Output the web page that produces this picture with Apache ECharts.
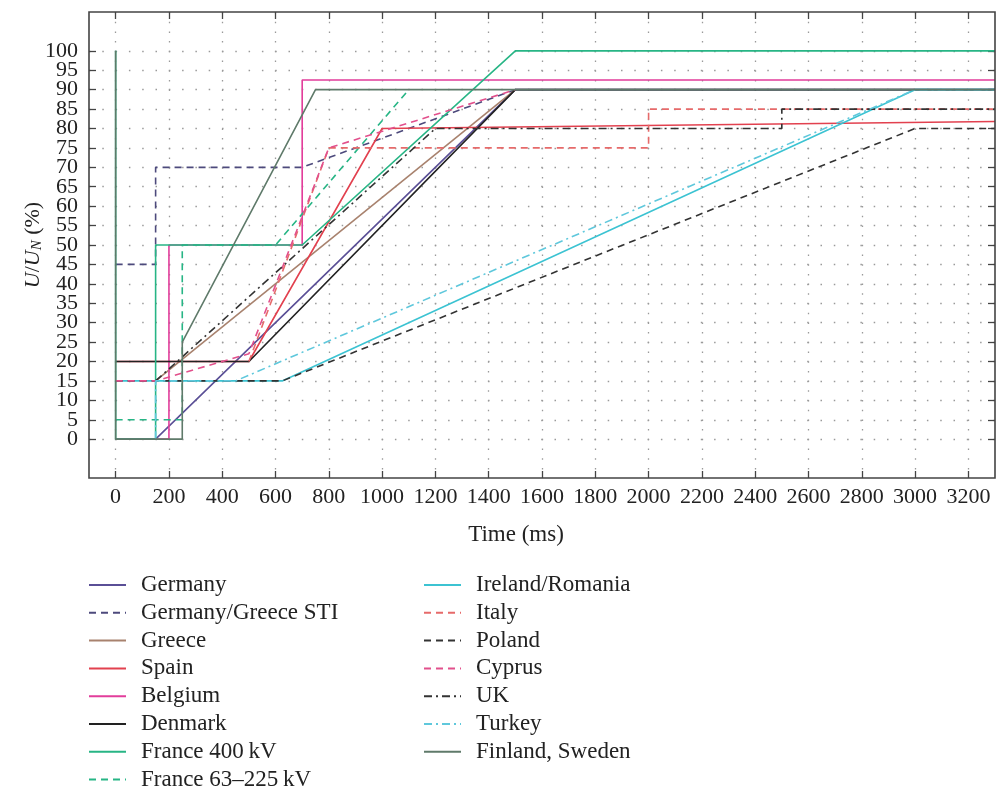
<!DOCTYPE html>
<html>
<head>
<meta charset="utf-8">
<script src="https://cdn.jsdelivr.net/npm/echarts@6/dist/echarts.min.js"></script>
<style>
html,body{margin:0;padding:0;background:#fff;}
#chart{width:997px;height:797px;}
</style>
</head>
<body>
<div id="chart"></div>
<script>
// ---- data (time in ms, voltage in % of U_N) ----
const xTicks = [0,200,400,600,800,1000,1200,1400,1600,1800,2000,2200,2400,2600,2800,3000,3200];
const yTicksEven = [0,10,20,30,40,50,60,70,80,90,100];
const yTicksOdd  = [5,15,25,35,45,55,65,75,85,95];

const germany        = [[0,0],[150,0],[1500,90],[3300,90]];
const germanyGreeceSTI = [[0,45],[150,45],[150,70],[700,70],[1500,90]];
const greece         = [[150,15],[1500,90]];
const spain          = [[0,20],[500,20],[1000,80],[3300,81.8]];
const belgium        = [[0,0],[200,0],[200,50],[700,50],[700,92.5],[3300,92.5]];
const denmark        = [[0,20],[500,20],[1500,90],[3300,90]];
const france400      = [[0,100],[0,0],[150,0],[150,50],[700,50],[1500,100],[3300,100]];
const france63       = [[0,5],[250,5],[250,50],[600,50],[1100,90]];
const irelandRomania = [[0,15],[625,15],[3000,90],[3300,90]];
const italy          = [[500,20],[800,75],[2000,75],[2000,85],[3300,85]];
const poland         = [[0,15],[625,15],[3000,80],[3300,80]];
const cyprus         = [[0,15],[150,15],[500,22],[800,75],[1500,90]];
const uk             = [[150,15],[1200,80],[2500,80],[2500,85],[3300,85]];
const turkey         = [[150,0],[150,15],[450,15],[3000,90],[3300,90]];
const finlandSweden  = [[0,100],[0,0],[250,0],[250,25],[750,90],[3300,90]];

const seriesDefs = [
  ['Germany', germany, '#5a4f96', 'solid'],
  ['Germany/Greece STI', germanyGreeceSTI, '#4d4a7c', 'dashed'],
  ['Greece', greece, '#a8826e', 'solid'],
  ['Spain', spain, '#e2414f', 'solid'],
  ['Belgium', belgium, '#e23d9b', 'solid'],
  ['Denmark', denmark, '#222222', 'solid'],
  ['France 400\u2009kV', france400, '#27b585', 'solid'],
  ['France 63\u2013225\u2009kV', france63, '#27b585', 'dashed'],
  ['Ireland/Romania', irelandRomania, '#3cc3d2', 'solid'],
  ['Italy', italy, '#e66a6a', 'dashed'],
  ['Poland', poland, '#333333', 'dashed'],
  ['Cyprus', cyprus, '#e2508c', 'dashed'],
  ['UK', uk, '#333333', 'dashdot'],
  ['Turkey', turkey, '#5fc8dc', 'dashdot'],
  ['Finland, Sweden', finlandSweden, '#5f7a6a', 'solid']
];

function lineType(t){
  if (t === 'dashed') return [7,5];
  if (t === 'dashdot') return [8,4,2,4];
  return 'solid';
}

const series = seriesDefs.map(d => ({
  name: d[0], type: 'line', data: d[1], xAxisIndex: 0, yAxisIndex: 0,
  showSymbol: false, symbol: 'none', animation: false, silent: true,
  lineStyle: { color: d[2], width: 1.6, type: lineType(d[3]) },
  itemStyle: { color: d[2] }
}));

// legend in two columns
const col1 = seriesDefs.slice(0,8).map(d => d[0]);
const col2 = seriesDefs.slice(8).map(d => d[0]);

const FONT = 'Liberation Serif';
const chart = echarts.init(document.getElementById('chart'), null, {renderer:'canvas'});
const legendCommon = {
  orient:'vertical', top:573.5, padding:0, itemGap:4.8, itemWidth:37, itemHeight:23,
  textStyle:{ fontSize:23, fontFamily:FONT, color:'#222', padding:[0,0,0,10] },
  itemStyle:{ opacity:0 }, selectedMode:false
};
const tickStyle = {show:true, inside:true, length:7, lineStyle:{color:'#444', width:1.3}};
function yLabelAxis(list, withName){
  const ax = { gridIndex:2, type:'value', min:0, max:100, interval:5, position:'left', offset:0,
    axisLine:{show:false}, axisTick: withName ? tickStyle : {show:false},
    axisLabel:{ color:'#222', fontSize:22, fontFamily:FONT, margin:11,
      showMinLabel:true, showMaxLabel:true,
      formatter: v => list.indexOf(v) >= 0 ? String(v) : '' },
    splitLine: withName ? {show:true, lineStyle:{color:'#9a9a9a', width:1.3, type:[1.5,11.8]}} : {show:false} };
  if (withName) {
    ax.name = '{i|U}/{i|U}{s|N} (%)';
    ax.nameLocation = 'middle'; ax.nameGap = 44; ax.nameRotate = 90;
    ax.nameMoveOverlap = false;
    ax.nameTextStyle = { color:'#222', fontSize:22, fontFamily:FONT,
      rich:{ i:{fontStyle:'italic', fontSize:22, fontFamily:FONT, color:'#222'},
             s:{fontStyle:'italic', fontSize:15, fontFamily:FONT, color:'#222', verticalAlign:'bottom', padding:[9,0,0,0]} } };
  }
  return ax;
}
chart.setOption({
  animation: false,
  backgroundColor: '#ffffff',
  textStyle: { fontFamily: FONT },
  grid: [
    { left:89, right:2, top:12, bottom:319, show:true, borderColor:'#444', borderWidth:1.6, backgroundColor:'transparent', z:5 },
    { left:115.6, right:28.6, top:12, bottom:319 },
    { left:89, right:2, top:50.8, bottom:357.8 }
  ],
  xAxis: [
    { gridIndex:0, type:'value', min:-100, max:3300, show:false },
    { gridIndex:1, type:'value', min:0, max:3200, interval:200, position:'bottom',
      axisLine:{show:false}, axisTick: tickStyle,
      axisLabel:{ color:'#222', fontSize:22, fontFamily:FONT, margin:8, showMinLabel:true, showMaxLabel:true,
        formatter: v => xTicks.indexOf(v) >= 0 ? String(v) : '' },
      splitLine:{show:true, lineStyle:{color:'#9a9a9a', width:1.3, type:[1.5,8.2]}},
      name:'Time (ms)', nameLocation:'middle', nameGap:45,
      nameTextStyle:{ color:'#222', fontSize:23, fontFamily:FONT, padding:[0,52,0,0] } },
    { gridIndex:1, type:'value', min:0, max:3200, interval:200, position:'top',
      axisLine:{show:false}, axisTick: tickStyle,
      axisLabel:{show:false}, splitLine:{show:false} },
    { gridIndex:2, type:'value', min:0, max:3300, show:false }
  ],
  yAxis: [
    { gridIndex:0, type:'value', min:-10, max:110, show:false },
    { gridIndex:1, type:'value', min:0, max:1, show:false },
    yLabelAxis(yTicksEven, true),
    { gridIndex:2, type:'value', min:0, max:100, interval:5, position:'right',
      axisLine:{show:false}, axisTick: tickStyle,
      axisLabel:{show:false}, splitLine:{show:false} },
    yLabelAxis(yTicksOdd, false)
  ],
  legend: [
    Object.assign({ data: col1, left:88 }, legendCommon),
    Object.assign({ data: col2, left:423 }, legendCommon)
  ],
  series: series
});
</script>
</body>
</html>
